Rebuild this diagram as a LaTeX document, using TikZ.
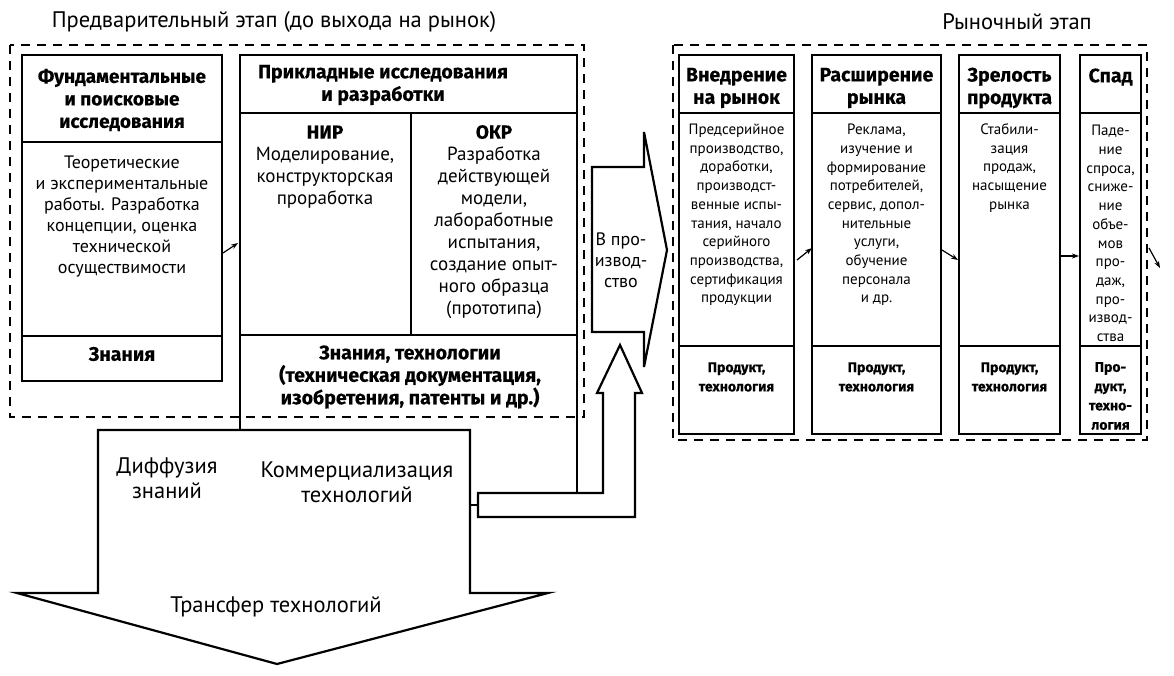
\documentclass[tikz,border=0pt]{standalone}
\usepackage{fontspec}
\setmainfont{PT Sans}
\newfontfamily\hdf{Fira Sans}[BoldFeatures={FakeBold=0.4}]
\usetikzlibrary{arrows.meta}
\begin{document}
\begin{tikzpicture}[x=1pt,y=-1pt,
  every node/.style={inner sep=0pt, outer sep=0pt},
  box/.style={draw, line width=2.2pt, anchor=north west},
  dbox/.style={draw, line width=1.1pt, dash pattern=on 9pt off 7pt},
  bd/.style={font=\fontsize{18}{21}\selectfont, align=center},
  bdn/.style={font=\fontsize{19}{22}\selectfont, align=center},
  bdl/.style={font=\fontsize{22.5}{25}\selectfont, align=center},
  hd/.style={font=\hdf\bfseries\fontsize{19.5}{22.5}\selectfont, align=center},
  hdl/.style={font=\hdf\bfseries\fontsize{19}{22.5}\selectfont, align=center},
  sm/.style={font=\fontsize{15}{18.7}\selectfont, align=center},
  smb/.style={font=\hdf\bfseries\fontsize{14}{19.3}\selectfont, align=center},
  ttl/.style={font=\fontsize{22.5}{24}\selectfont},
  arr/.style={-{Stealth[length=7pt,width=5pt]}, line width=1.2pt},
  shp/.style={draw, line width=2.2pt, line join=miter, fill=white}
]
\useasboundingbox (0,0) rectangle (1174,676);
% titles
\node[ttl] (t1) at (274,22) {Предварительный этап (до выхода на рынок)};
\node[ttl] (t2) at (1017,22) {Рыночный этап};
% dashed frames
\draw[dbox] (10,45) rectangle (584,417);
\draw[dbox] (673,45) rectangle (1147,440);
% box 1
\node[box, minimum width=200pt, minimum height=87pt] (b1h) at (22,55) {};
\node[box, minimum width=200pt, minimum height=194pt] (b1b) at (22,142) {};
\node[box, minimum width=200pt, minimum height=45pt] (b1k) at (22,336) {};
\node[hdl] (b1ht) at (122,100) {Фундаментальные\\и поисковые\\исследования};
\node[bd] (b1bt) at (122,217) {Теоретические\\и экспериментальные\\работы. Разработка\\концепции, оценка\\технической\\осуществимости};
\node[hd] (b1kt) at (122,354) {Знания};
% box 2
\node[box, minimum width=337pt, minimum height=58pt] (b2h) at (240,55) {};
\node[box, minimum width=171pt, minimum height=222pt] (nir) at (240,113) {};
\node[box, minimum width=166pt, minimum height=222pt] (okr) at (411,113) {};
\node[anchor=north west, minimum width=337pt, minimum height=95pt] (b2k) at (240,335) {};
\node[hd] (b2ht) at (383,85) {Прикладные исследования\\и разработки};
\node[bdn] (nirt) at (325,167) {{\hdf\bfseries НИР}\\Моделирование,\\конструкторская\\проработка};
\node[bdn] (okrt) at (494,222) {{\hdf\bfseries ОКР}\\Разработка\\действующей\\модели,\\лабоработные\\испытания,\\создание опыт-\\ного образца\\(прототипа)};
\node[hd] (b2kt) at (410,377) {Знания, технологии\\(техническая документация,\\изобретения, патенты и др.)};
\draw[line width=2.2pt] (b2k.north west) -- (b2k.south west);
\draw[arr] ([shift={(1,14)}]b1b.east) -- ([shift={(-2,19)}]nir.west);
% big down arrow
\draw[shp] (98,430) -- (470,430) -- (470,593) -- (548,593) -- (277,664) -- (17,593) -- (98,593) -- cycle;
\node[bdl] (dif) at (167,478) {Диффузия\\знаний};
\node[bdl] (com) at (357,482) {Коммерциализация\\технологий};
\node[bdl] (trf) at (276,607) {Трансфер технологий};
% pipe and up arrow
\draw[shp] (478,493) -- (603,493) -- (603,393) -- (597,393) -- (620,345) -- (642,393) -- (635,393) -- (635,517) -- (478,517) -- cycle;
\coordinate (pipetop) at (478,493);
\draw[line width=2.2pt] (b2k.north east) -- (b2k.north east |- pipetop);
\draw[line width=2.2pt] (470,505) -- (478,505);
% production arrow
\draw[shp] (592,167) -- (644,167) -- (644,132) -- (667,250) -- (644,367) -- (644,332) -- (592,332) -- cycle;
\node[bd] (prod) at (621,260) {В про-\\извод-\\ство};
% market columns
\foreach \n/\x/\w in {c1/679/115, c2/812/129, c3/959/101, c4/1080/61}{
  \node[box, minimum width=\w pt, minimum height=58pt] (\n h) at (\x,55) {};
  \node[box, minimum width=\w pt, minimum height=233pt] (\n b) at (\x,113) {};
  \node[box, minimum width=\w pt, minimum height=88pt] (\n k) at (\x,346) {};
}
\node[hd] (c1ht) at (736.5,88) {Внедрение\\на рынок};
\node[hd] (c2ht) at (876.5,88) {Расширение\\рынка};
\node[hd] (c3ht) at (1009.5,88) {Зрелость\\продукта};
\node[hd] (c4ht) at (1110.5,77) {Спад};
\node[sm] (c1bt) at (736.5,215) {Предсерийное\\производство,\\доработки,\\производст-\\венные испы-\\тания, начало\\серийного\\производства,\\сертификация\\продукции};
\node[sm] (c2bt) at (876.5,215) {Реклама,\\изучение и\\формирование\\потребителей,\\сервис, допол-\\нительные\\услуги,\\обучение\\персонала\\и др.};
\node[sm] (c3bt) at (1009.5,168) {Стабили-\\зация\\продаж,\\насыщение\\рынка};
\node[sm] (c4bt) at (1110.5,233.5) {Паде-\\ние\\спроса,\\сниже-\\ние\\объе-\\мов\\про-\\даж,\\про-\\извод-\\ства};
\node[smb] (c1kt) at (736.5,377) {Продукт,\\технология};
\node[smb] (c2kt) at (876.5,377) {Продукт,\\технология};
\node[smb] (c3kt) at (1009.5,377) {Продукт,\\технология};
\node[smb] (c4kt) at (1110.5,396) {Про-\\дукт,\\техно-\\логия};
\draw[arr] ([shift={(3,30.5)}]c1b.east) -- ([shift={(0,18.5)}]c2b.west);
\draw[arr] ([shift={(1,20.5)}]c2b.east) -- ([shift={(-1,30.5)}]c3b.west);
\draw[arr] ([shift={(0,26.5)}]c3b.east) -- ([shift={(-1,26.5)}]c4b.west);
\coordinate (out) at (1160,268);
\draw[arr] ([shift={(8,18.5)}]c4b.east) -- (out);
\end{tikzpicture}
\end{document}
